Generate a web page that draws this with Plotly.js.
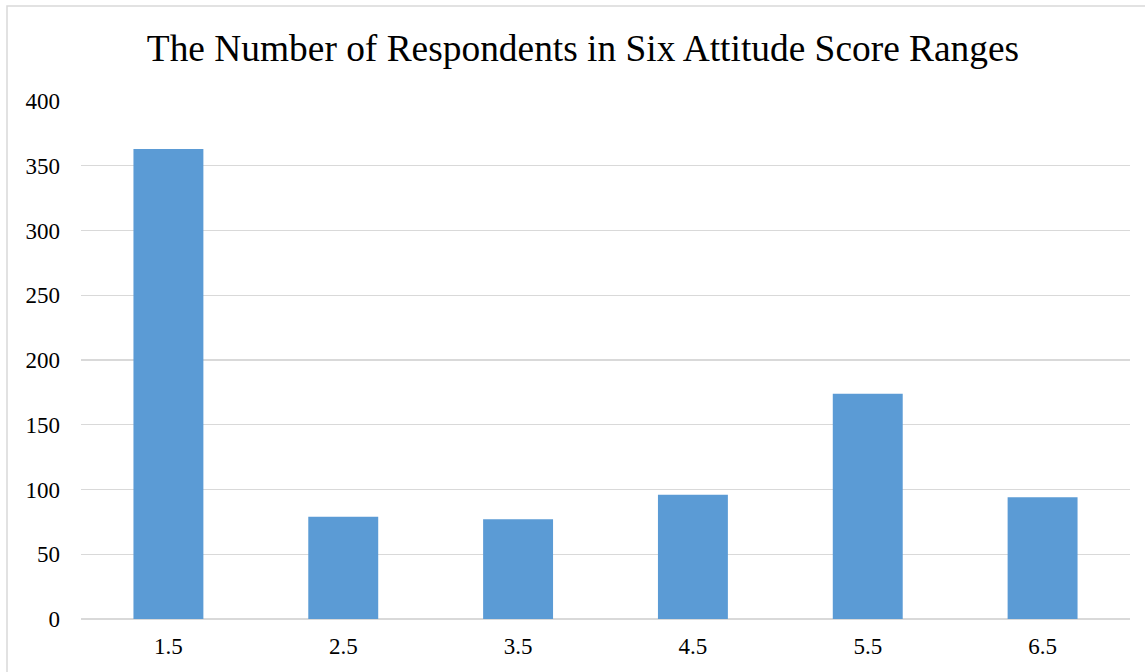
<!DOCTYPE html>
<html>
<head>
<meta charset="utf-8">
<script src="https://cdn.plot.ly/plotly-3.0.1.min.js"></script>
<style>html,body{margin:0;padding:0;background:#fff;}#chart{width:1145px;height:672px;}</style>
</head>
<body>
<div id="chart"></div>
<script>
const categories = ["1.5", "2.5", "3.5", "4.5", "5.5", "6.5"];
const respondents = [363, 79, 77, 96, 174, 94];
const yTicks = [0, 50, 100, 150, 200, 250, 300, 350, 400];
const chartTitle = "The Number of Respondents in Six Attitude Score Ranges";

const W = 1145, H = 672;
const m = {l: 81, r: 15, t: 101, b: 53};
const pw = W - m.l - m.r, ph = H - m.t - m.b;
const px = v => (v - m.l) / pw;
const py = v => (H - m.b - v) / ph;
const SERIF = 'Liberation Serif, Times New Roman, serif';

const trace = {
  type: 'bar',
  x: categories,
  y: respondents,
  width: 0.4,
  marker: {color: '#5b9bd5'},
  hoverinfo: 'x+y'
};

const layout = {
  width: W, height: H,
  margin: m,
  paper_bgcolor: '#fff',
  plot_bgcolor: '#fff',
  font: {family: SERIF, color: '#000', size: 23},
  title: {
    text: chartTitle,
    font: {family: SERIF, size: 37.4, color: '#000'},
    xref: 'container', x: 583 / W, xanchor: 'center',
    yref: 'container', y: 1 - 48 / H, yanchor: 'middle'
  },
  xaxis: {
    type: 'category',
    showgrid: false,
    showline: false,
    zeroline: false,
    ticks: '',
    ticklabelstandoff: 11,
    tickfont: {family: SERIF, size: 23, color: '#000'},
    fixedrange: true
  },
  yaxis: {
    range: [0, 400],
    tickvals: yTicks,
    ticktext: yTicks.map(String),
    showgrid: true,
    gridcolor: '#d9d9d9',
    gridwidth: 1.3,
    zeroline: true,
    zerolinecolor: '#d9d9d9',
    zerolinewidth: 1.3,
    showline: false,
    ticks: '',
    ticklabelstandoff: 20,
    tickfont: {family: SERIF, size: 23, color: '#000'},
    fixedrange: true
  },
  showlegend: false,
  bargap: 0.6,
  shapes: [{
    type: 'rect', xref: 'paper', yref: 'paper',
    x0: px(7), x1: px(1160), y0: py(690), y1: py(6),
    line: {color: '#d9d9d9', width: 1.5},
    fillcolor: 'rgba(0,0,0,0)',
    layer: 'below'
  }]
};

Plotly.newPlot('chart', [trace], layout, {displayModeBar: false, staticPlot: true});
</script>
</body>
</html>
